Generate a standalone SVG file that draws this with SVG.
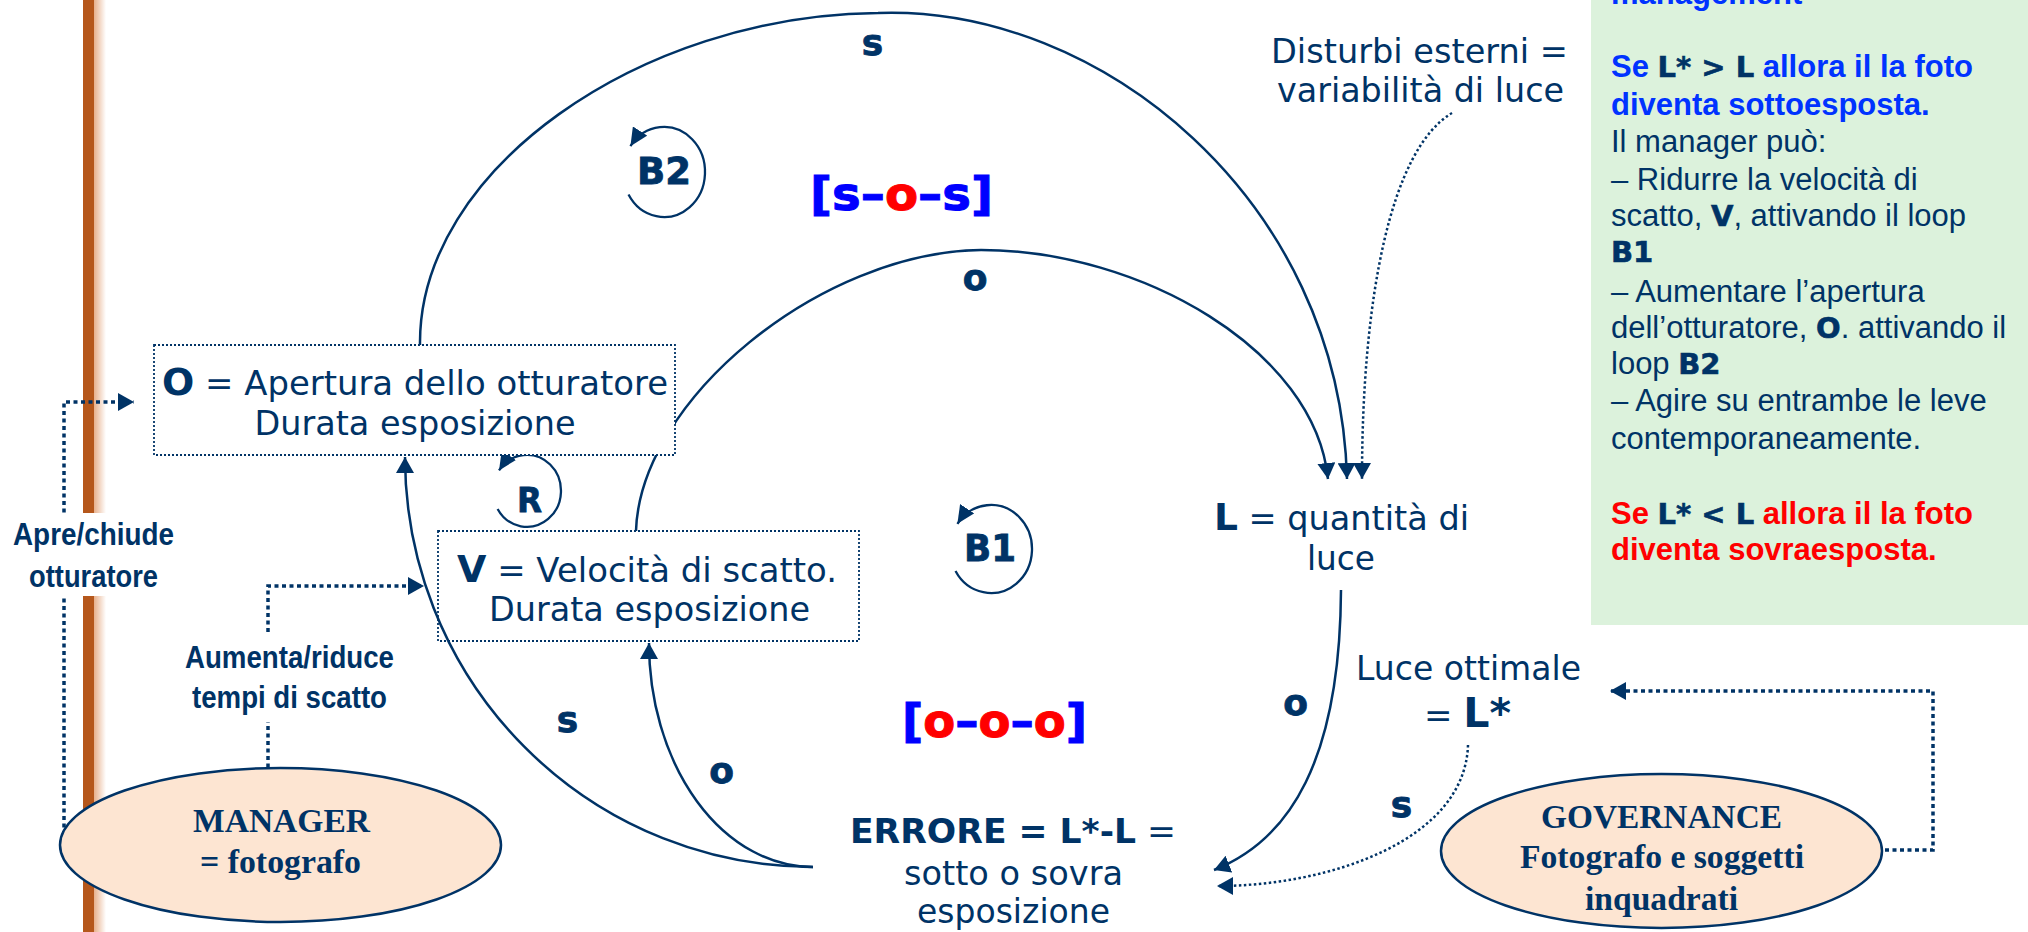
<svg xmlns="http://www.w3.org/2000/svg" width="2028" height="932" viewBox="0 0 2028 932">
<defs>
<style>
.t{font-family:"DejaVu Sans",Verdana,sans-serif;font-size:33px;fill:#003366}
.b{font-weight:bold}
.big{font-family:"DejaVu Sans",Verdana,sans-serif;font-weight:bold;font-size:37px;fill:#003366}
.serif{font-family:"Liberation Serif","Times New Roman",serif;font-weight:bold;font-size:34px;fill:#003366}
.ar{font-family:"Liberation Sans",Arial,sans-serif;font-size:31px;fill:#003366}
.narrow{font-family:"Liberation Sans",Arial,sans-serif;font-weight:bold;font-size:31px;fill:#003366}
.hv{font-family:"DejaVu Sans",Verdana,sans-serif;font-weight:bold;font-size:29px;fill:#003366;stroke:#003366;stroke-width:0.6}
.lk{font-family:"DejaVu Sans",Verdana,sans-serif;font-weight:bold;font-size:36px;fill:#003366;text-anchor:middle;stroke:#003366;stroke-width:0.8}
.loop{font-family:"DejaVu Sans",Verdana,sans-serif;font-weight:bold;font-size:37px;fill:#003366;stroke:#003366;stroke-width:0.8}
.pol{font-family:"DejaVu Sans",Verdana,sans-serif;font-weight:bold;font-size:47px}
.blue{fill:#0033FF}
.pb{fill:#0000FF}
.red{fill:#FF0000}
.c{fill:none;stroke:#003366;stroke-width:2.5}
.cl{fill:none;stroke:#003366;stroke-width:2.3}
.cd{fill:none;stroke:#003366;stroke-width:2.5;stroke-dasharray:2.5 2.5}
.cdd{fill:none;stroke:#003366;stroke-width:3.5;stroke-dasharray:4 3.5}
.box{fill:#FFFFFF;stroke:#003366;stroke-width:1.8;stroke-dasharray:2 2}
.boxn{fill:none;stroke:#003366;stroke-width:1.8;stroke-dasharray:2 2}
.ell{fill:#FDE5D2;stroke:#003366;stroke-width:2.5}
.dash{fill:#0000FF}
</style>
<marker id="arr" viewBox="0 0 16 18" refX="16" refY="9" markerWidth="16" markerHeight="18" markerUnits="userSpaceOnUse" orient="auto">
<path d="M0,0 L16,9 L0,18 z" fill="#003366"/>
</marker>
<marker id="arrs" viewBox="0 0 18 17" refX="18" refY="8.5" markerWidth="18" markerHeight="17" markerUnits="userSpaceOnUse" orient="auto">
<path d="M0,0 L18,8.5 L0,17 z" fill="#003366"/>
</marker>
<linearGradient id="shade" x1="0" y1="0" x2="1" y2="0">
<stop offset="0" stop-color="#E7B08C"/>
<stop offset="1" stop-color="#FFFFFF"/>
</linearGradient>
</defs>
<rect x="0" y="0" width="2028" height="932" fill="#FFFFFF"/>

<g id="side-bar">
<rect x="83" y="0" width="11" height="932" fill="#B5571B"/>
<rect x="94" y="0" width="12" height="932" fill="url(#shade)"/>
</g>

<g id="info-panel">
<rect x="1591" y="0" width="437" height="625" fill="#DCF2DC"/>
<text class="ar b blue" x="1611" y="4">management</text>
<text class="ar b blue" x="1611" y="77">Se <tspan class="hv">L* &gt; L</tspan> allora il la foto</text>
<text class="ar b blue" x="1611" y="115">diventa sottoesposta.</text>
<text class="ar" x="1611" y="152">Il manager può:</text>
<text class="ar" x="1611" y="190">– Ridurre la velocità di</text>
<text class="ar" x="1611" y="226">scatto, <tspan class="hv">V</tspan>, attivando il loop</text>
<text class="hv" x="1611" y="262">B1</text>
<text class="ar" x="1611" y="302">– Aumentare l’apertura</text>
<text class="ar" x="1611" y="338">dell’otturatore, <tspan class="hv">O</tspan>. attivando il</text>
<text class="ar" x="1611" y="374">loop <tspan class="hv">B2</tspan></text>
<text class="ar" x="1611" y="411">– Agire su entrambe le leve</text>
<text class="ar" x="1611" y="449">contemporaneamente.</text>
<text class="ar b red" x="1611" y="524">Se <tspan class="hv">L* &lt; L</tspan> allora il la foto</text>
<text class="ar b red" x="1611" y="560">diventa sovraesposta.</text>
</g>

<g id="connectors">
<path id="link-O-L" class="c" d="M420,345 C418,170 640,15 878,13 C1100,5 1340,200 1347,479" marker-end="url(#arr)"/>
<path id="link-V-L" class="c" d="M636,531 C640,400 820,252 981,250 C1140,250 1315,350 1328,479" marker-end="url(#arr)"/>
<path id="link-E-O" class="c" d="M813,867 A408,410 0 0 1 405,457" marker-end="url(#arr)"/>
<path id="link-E-V" class="c" d="M813,867 A164,224 0 0 1 649,643" marker-end="url(#arr)"/>
<path id="link-L-E" class="c" d="M1341,590 C1340,760 1290,840 1214,870" marker-end="url(#arr)"/>
<path id="link-Ls-E" class="cd" d="M1468,745 C1465,840 1330,886 1217,886" marker-end="url(#arr)"/>
<path id="link-D-L" class="cd" d="M1452,113 C1390,150 1362,300 1362,479" marker-end="url(#arr)"/>
<path id="link-M-O" class="cdd" d="M64,835 V402 H134" marker-end="url(#arr)"/>
<path id="link-M-V-a" class="cdd" d="M268,775 V722"/>
<path id="link-M-V-b" class="cdd" d="M268,632 V586 H424" marker-end="url(#arr)"/>
<path id="link-G-Ls" class="cdd" d="M1870,850 H1933 V691 H1610" marker-end="url(#arr)"/>
<path id="loop-B2" class="cl" d="M628.5,194.5 A41,45 0 1 0 630.4,146.2" marker-end="url(#arrs)"/>
<path id="loop-B1" class="cl" d="M955.5,571 A41,44 0 1 0 957.4,523.8" marker-end="url(#arrs)"/>
<path id="loop-R" class="cl" d="M497.6,509 A34,36 0 1 0 499,470.4" marker-end="url(#arrs)"/>
</g>

<g id="node-O">
<rect class="box" x="154" y="345" width="521" height="110"/>
<text class="t" x="415" y="395" text-anchor="middle" textLength="506" lengthAdjust="spacingAndGlyphs"><tspan class="big">O</tspan> = Apertura dello otturatore</text>
<text class="t" x="415" y="435" text-anchor="middle" textLength="321" lengthAdjust="spacingAndGlyphs">Durata esposizione</text>
</g>

<g id="node-V">
<rect class="boxn" x="438" y="531" width="421" height="110"/>
<text class="t" x="647" y="582" text-anchor="middle" textLength="380" lengthAdjust="spacingAndGlyphs"><tspan class="big">V</tspan> = Velocità di scatto.</text>
<text class="t" x="649.5" y="621" text-anchor="middle" textLength="321" lengthAdjust="spacingAndGlyphs">Durata esposizione</text>
</g>

<g id="node-L">
<text class="t" x="1341.5" y="530" text-anchor="middle" textLength="255" lengthAdjust="spacingAndGlyphs"><tspan class="big">L</tspan> = quantità di</text>
<text class="t" x="1341" y="570" text-anchor="middle" textLength="68" lengthAdjust="spacingAndGlyphs">luce</text>
</g>

<g id="node-Lstar">
<text class="t" x="1468.5" y="680" text-anchor="middle" textLength="225" lengthAdjust="spacingAndGlyphs">Luce ottimale</text>
<text class="t" x="1467.5" y="727" text-anchor="middle" textLength="87" lengthAdjust="spacingAndGlyphs">= <tspan class="big" style="font-size:40px">L*</tspan></text>
</g>

<g id="node-errore">
<text class="t" x="1013" y="843" text-anchor="middle" textLength="326" lengthAdjust="spacingAndGlyphs"><tspan class="b">ERRORE = L*-L</tspan> =</text>
<text class="t" x="1013.5" y="885" text-anchor="middle" textLength="219" lengthAdjust="spacingAndGlyphs">sotto o sovra</text>
<text class="t" x="1013.5" y="923" text-anchor="middle" textLength="193" lengthAdjust="spacingAndGlyphs">esposizione</text>
</g>

<g id="node-disturbi">
<text class="t" x="1419.5" y="63" text-anchor="middle" textLength="297" lengthAdjust="spacingAndGlyphs">Disturbi esterni =</text>
<text class="t" x="1420.5" y="102" text-anchor="middle" textLength="287" lengthAdjust="spacingAndGlyphs">variabilità di luce</text>
</g>

<g id="node-manager">
<ellipse class="ell" cx="280.5" cy="845" rx="220.5" ry="77"/>
<text class="serif" x="281.5" y="832" text-anchor="middle" textLength="177" lengthAdjust="spacingAndGlyphs">MANAGER</text>
<text class="serif" x="280.5" y="873" text-anchor="middle" textLength="161" lengthAdjust="spacingAndGlyphs">= fotografo</text>
</g>

<g id="node-governance">
<ellipse class="ell" cx="1661.5" cy="851" rx="220.5" ry="77"/>
<text class="serif" x="1661.5" y="828" text-anchor="middle" textLength="241" lengthAdjust="spacingAndGlyphs">GOVERNANCE</text>
<text class="serif" x="1662" y="868" text-anchor="middle" textLength="284" lengthAdjust="spacingAndGlyphs">Fotografo e soggetti</text>
<text class="serif" x="1661.5" y="910" text-anchor="middle" textLength="153" lengthAdjust="spacingAndGlyphs">inquadrati</text>
</g>

<g id="label-apre">
<rect x="4" y="513" width="178" height="83" fill="#FFFFFF"/>
<text class="narrow" x="93.5" y="545" text-anchor="middle" textLength="161" lengthAdjust="spacingAndGlyphs">Apre/chiude</text>
<text class="narrow" x="93.5" y="587" text-anchor="middle" textLength="129" lengthAdjust="spacingAndGlyphs">otturatore</text>
</g>

<g id="label-aumenta">
<text class="narrow" x="289.5" y="668" text-anchor="middle" textLength="209" lengthAdjust="spacingAndGlyphs">Aumenta/riduce</text>
<text class="narrow" x="289.5" y="708" text-anchor="middle" textLength="195" lengthAdjust="spacingAndGlyphs">tempi di scatto</text>
</g>

<g id="loop-labels">
<text class="loop" x="637" y="184" textLength="54" lengthAdjust="spacingAndGlyphs">B2</text>
<text class="loop" x="964" y="561" textLength="52" lengthAdjust="spacingAndGlyphs">B1</text>
<text class="loop" x="517" y="512" style="font-size:33px" textLength="25" lengthAdjust="spacingAndGlyphs">R</text>
</g>

<g id="link-labels">
<text class="lk" x="872.5" y="55">s</text>
<text class="lk" x="975" y="290">o</text>
<text class="lk" x="567.5" y="732">s</text>
<text class="lk" x="721.5" y="783">o</text>
<text class="lk" x="1295.5" y="715">o</text>
<text class="lk" x="1401.5" y="817">s</text>
</g>

<g id="polarity-labels">
<text class="pol pb" x="810" y="210" textLength="183" lengthAdjust="spacingAndGlyphs" stroke="#0000FF" stroke-width="1">[s–<tspan class="red" stroke="#FF0000">o</tspan>–s]</text>
<text class="pol pb" x="902" y="737" textLength="185" lengthAdjust="spacingAndGlyphs" stroke="#0000FF" stroke-width="1">[<tspan class="red" stroke="#FF0000">o</tspan>–<tspan class="red" stroke="#FF0000">o</tspan>–<tspan class="red" stroke="#FF0000">o</tspan>]</text>
</g>
</svg>
